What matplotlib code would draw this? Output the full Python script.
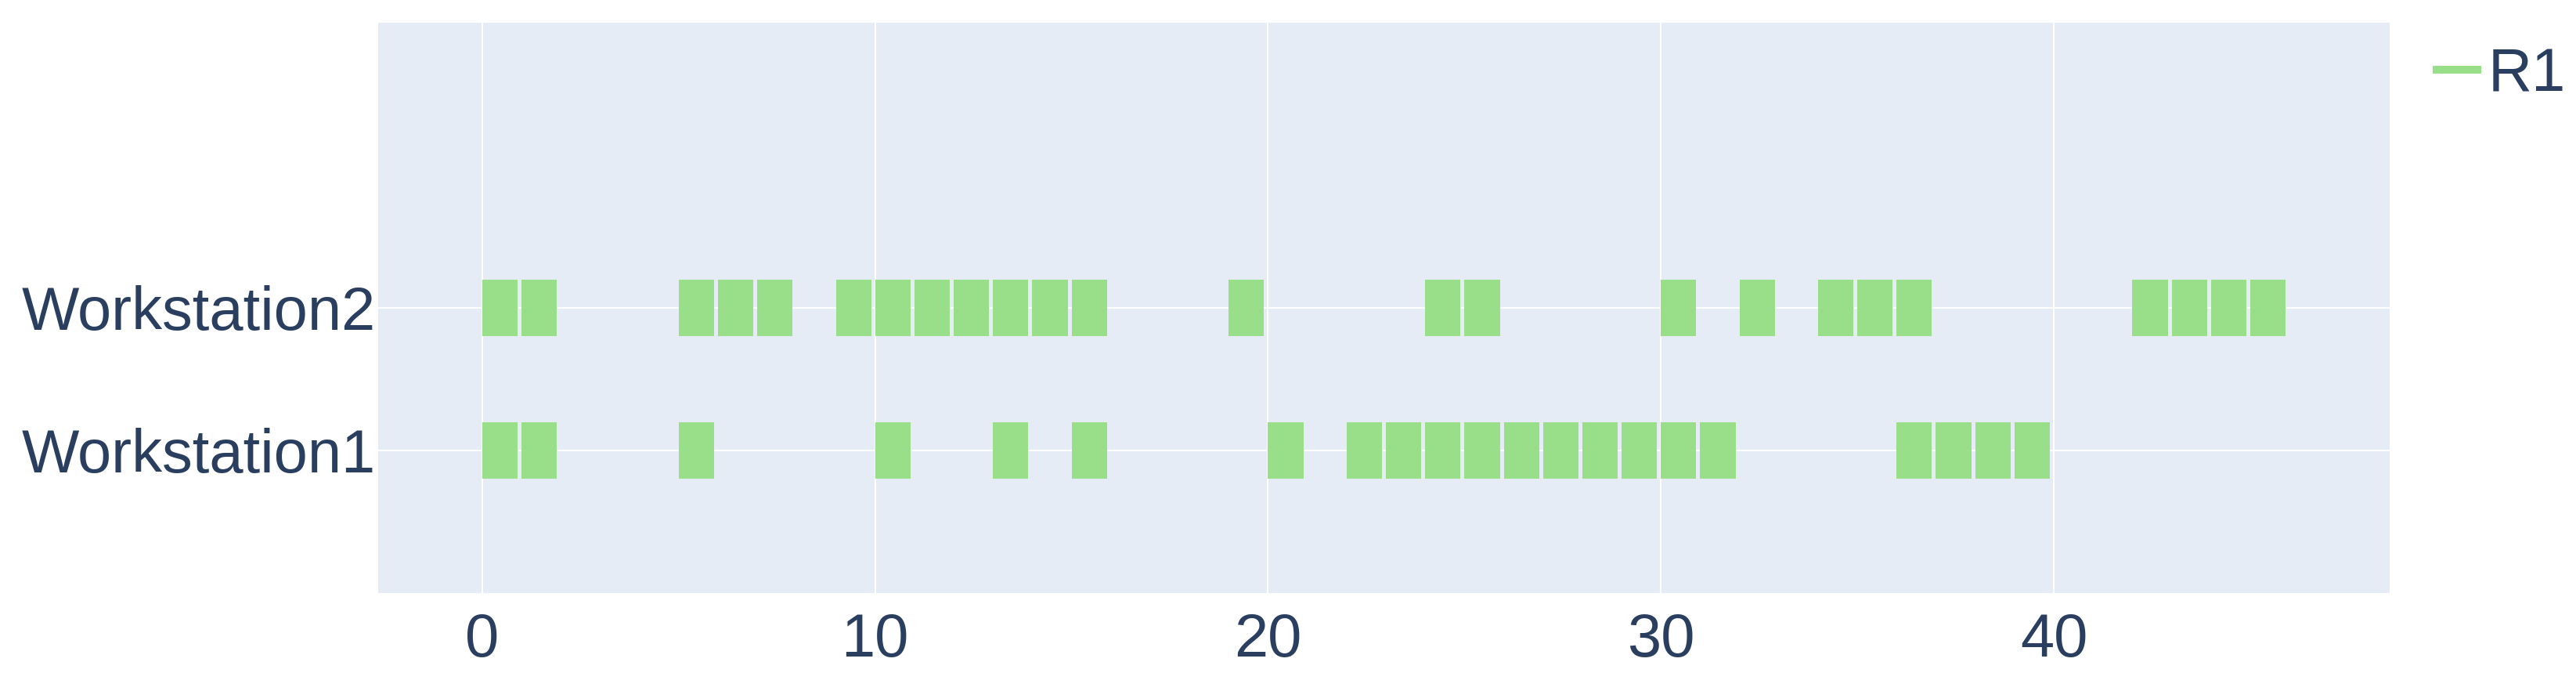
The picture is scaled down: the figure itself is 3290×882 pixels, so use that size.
import matplotlib.pyplot as plt
from matplotlib.lines import Line2D

# start times of the R1 jobs on each workstation
ws1_starts = [0, 1, 5, 10, 13, 15, 20, 22, 23, 24, 25, 26, 27, 28, 29, 30, 31, 36, 37, 38, 39]
ws2_starts = [0, 1, 5, 6, 7, 9, 10, 11, 12, 13, 14, 15, 19, 24, 25, 30, 32, 34, 35, 36, 42, 43, 44, 45]
stations = ['Workstation1', 'Workstation2']
job_len = 0.9
x_ticks = [0, 10, 20, 30, 40]

text_col = '#2a3f5f'
bar_col = '#99df8a'
plt.rcParams['font.family'] = ['Liberation Sans', 'DejaVu Sans']

fig = plt.figure(figsize=(32.91, 8.82), dpi=100)
ax = fig.add_axes([483/3291, 125/882, (3052-483)/3291, 728/882])
ax.set_facecolor('#e5ecf6')

for i, starts in enumerate([ws1_starts, ws2_starts]):
    ax.barh([i]*len(starts), [job_len]*len(starts), left=starts, height=0.4,
            color=bar_col, align='center', zorder=3)

ax.set_xlim(-2.65, 48.55)
ax.set_ylim(-1, 3)
ax.set_xticks(x_ticks)
ax.set_yticks(range(len(stations)))
ax.set_yticklabels(stations)
ax.grid(True, color='white', linewidth=1.5, zorder=0)
ax.set_axisbelow(True)
for s in ax.spines.values():
    s.set_visible(False)
ax.tick_params(axis='both', length=0, labelsize=56, labelcolor=text_col)
ax.tick_params(axis='x', pad=17)
ax.tick_params(axis='y', pad=2.5)

handle = Line2D([], [], color=bar_col, linewidth=7.2)
fig.legend([handle], ['R1'], loc='center left', bbox_to_anchor=(3112/3291, 1-96/882),
           frameon=False, fontsize=56, labelcolor=text_col, borderpad=0, borderaxespad=0,
           handlelength=0.67, handletextpad=0.18)

fig.savefig('out.png', dpi=100)
